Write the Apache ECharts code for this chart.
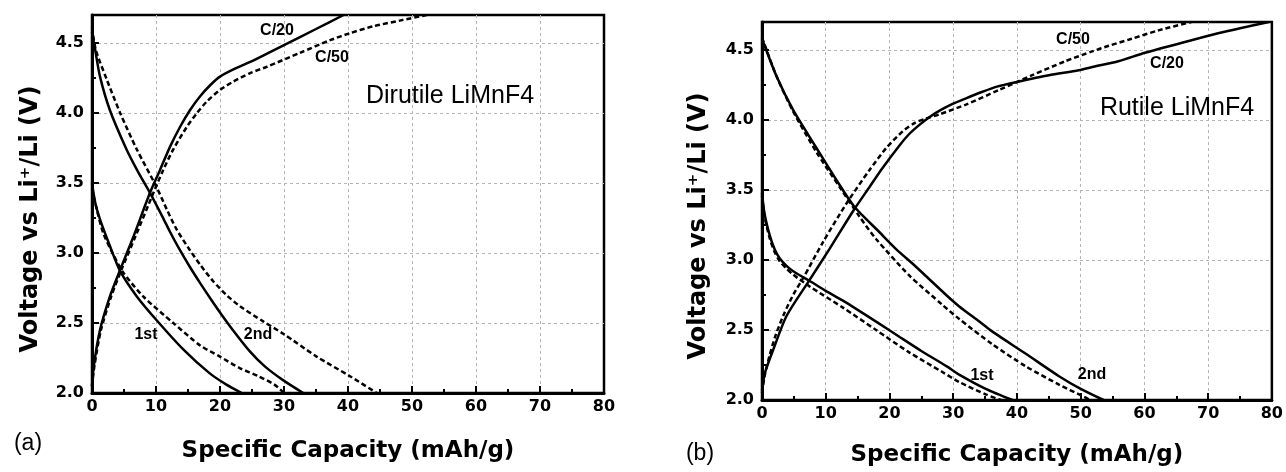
<!DOCTYPE html>
<html>
<head>
<meta charset="utf-8">
<script src="https://cdn.jsdelivr.net/npm/echarts@6/dist/echarts.min.js"></script>
<style>
html,body{margin:0;padding:0;background:#fff;}
#chart{width:1286px;height:472px;}
</style>
</head>
<body>
<div id="chart"></div>
<script>
// ---------- Data (capacity mAh/g, voltage V) ----------
// Panel (a) Dirutile LiMnF4
const dirChargeC20 = [[0,2.05],[0.3,2.2],[1.25,2.45],[2.8,2.69],[4.4,2.88],[6.5,3.12],[9.06,3.43],[10.6,3.59],[12.2,3.76],[13.75,3.9],[15.3,4.02],[16.9,4.12],[18.5,4.2],[20,4.26],[22.5,4.32],[25,4.37],[30,4.485],[35,4.6],[39.3,4.7]];
const dirChargeC50 = [[0,2.05],[0.4,2.2],[1.4,2.45],[3,2.69],[4.6,2.88],[6.8,3.12],[9.6,3.43],[11.1,3.59],[12.7,3.74],[14.8,3.9],[16.4,4.0],[17.9,4.08],[20,4.165],[22.1,4.225],[24.7,4.285],[27.3,4.33],[32.5,4.43],[37.2,4.52],[40.3,4.57],[44,4.62],[48.1,4.66],[52.3,4.7]];
const dirDisUpperC20 = [[0,4.58],[0.5,4.45],[1.25,4.26],[2.8,4.02],[5.4,3.74],[7.2,3.58],[9.06,3.43],[11,3.26],[12.2,3.15],[13.5,3.04],[15.3,2.9],[16.9,2.785],[18.5,2.675],[20,2.575],[22,2.45],[24.7,2.295],[27,2.19],[29.9,2.09],[33,2.0]];
const dirDisUpperC50 = [[0,4.61],[0.6,4.45],[2.3,4.24],[4.4,4.0],[7,3.74],[10.1,3.47],[11.7,3.31],[13.2,3.17],[15.3,3.02],[17,2.91],[18.9,2.8],[21,2.7],[23.1,2.62],[26.8,2.51],[30,2.42],[35.1,2.26],[40.3,2.12],[44.5,2.0]];
const dirDisLowerC20 = [[0,3.5],[0.5,3.36],[1.25,3.24],[2.8,3.05],[4.4,2.87],[7,2.69],[10.1,2.52],[14.3,2.31],[18.4,2.14],[21,2.06],[23.4,2.0]];
const dirDisLowerC50 = [[0,3.46],[0.8,3.3],[1.77,3.14],[3.2,3.0],[4.9,2.86],[8,2.69],[12.7,2.5],[16.9,2.34],[20,2.26],[23,2.18],[26,2.12],[28.5,2.06],[30,2.0]];

// Panel (b) Rutile LiMnF4
const rutChargeC20 = [[0,2.07],[0.5,2.2],[1.77,2.36],[3.85,2.6],[7.5,2.86],[10.6,3.08],[14.3,3.35],[17,3.53],[18.8,3.65],[21.6,3.82],[23.1,3.9],[24.7,3.965],[26.25,4.02],[28,4.07],[29.9,4.115],[32,4.155],[34.5,4.2],[37,4.24],[39.8,4.27],[45,4.32],[49.7,4.355],[52,4.38],[55.9,4.42],[60.1,4.48],[67.4,4.57],[72.6,4.63],[79.5,4.7]];
const rutChargeC50 = [[0,2.05],[0.4,2.17],[1.2,2.32],[2.2,2.47],[3.5,2.62],[5,2.76],[6.45,2.87],[9.6,3.13],[13.2,3.4],[16.9,3.645],[19.5,3.8],[22.1,3.92],[24,3.98],[25.7,4.01],[27.8,4.04],[32,4.11],[37.2,4.215],[42.4,4.32],[47.6,4.42],[51.8,4.49],[54.4,4.53],[58,4.58],[62.2,4.64],[67.4,4.7]];
const rutDisUpperC20 = [[0,4.58],[2.3,4.31],[4.9,4.07],[8.55,3.8],[11.7,3.57],[14.5,3.38],[18.4,3.2],[21,3.08],[24.2,2.95],[28.9,2.75],[30.9,2.67],[34.1,2.56],[36.1,2.49],[41.4,2.33],[46.6,2.17],[50,2.08],[53.6,2.0]];
const rutDisUpperC50 = [[0,4.59],[2.3,4.31],[4.9,4.06],[8.55,3.77],[12.2,3.52],[15.3,3.31],[17.9,3.15],[23.1,2.89],[28.3,2.68],[30.9,2.58],[36.1,2.4],[41.4,2.24],[46.6,2.11],[50.2,2.03],[51.5,2.0]];
const rutDisLowerC20 = [[0,3.48],[0.4,3.33],[1.25,3.17],[2,3.075],[2.8,3.01],[3.8,2.96],[4.9,2.92],[7.5,2.85],[10,2.78],[12.7,2.71],[17.9,2.56],[21.6,2.45],[25,2.35],[29,2.24],[31,2.18],[35.1,2.08],[39.3,2.0]];
const rutDisLowerC50 = [[0,3.46],[0.4,3.31],[1.25,3.15],[2,3.055],[2.8,2.99],[3.8,2.94],[4.9,2.895],[7.5,2.81],[12.7,2.66],[17.9,2.5],[23.1,2.34],[28.3,2.2],[30.9,2.13],[35.1,2.04],[37.5,2.0]];

const xRange = [0, 80];
const yRange = [2.0, 4.7];
const xTitle = 'Specific Capacity (mAh/g)';
const yTitle = 'Voltage vs Li\u207A/Li (V)';
const panelNames = ['Dirutile LiMnF4', 'Rutile LiMnF4'];
const panelTags = ['(a)', '(b)'];
const rateLabels = ['C/20', 'C/50'];
const cycleLabels = ['1st', '2nd'];

// ---------- Chart ----------
const chart = echarts.init(document.getElementById('chart'), null, {renderer: 'canvas'});
const BOLD = 'DejaVu Sans';
const grids = [
  {left: 92, top: 15, width: 512, height: 378},
  {left: 762, top: 22, width: 512, height: 379}
];
const gridLine = {show: true, showMinLine: false, showMaxLine: false,
  lineStyle: {color: '#b4b4b4', width: 1, type: [3, 3]}};

function xAxis(gi, gap) {
  return {
    type: 'value', gridIndex: gi, min: xRange[0], max: xRange[1], interval: 10,
    name: xTitle, nameLocation: 'middle', nameGap: gap,
    nameTextStyle: {fontFamily: BOLD, fontWeight: 'bold', fontSize: 23, color: '#000'},
    axisLine: {show: true, lineStyle: {color: '#000', width: 3}},
    axisTick: {show: true, inside: true, length: 7, lineStyle: {color: '#000', width: 2}},
    minorTick: {show: true, splitNumber: 2, length: 4, lineStyle: {color: '#000', width: 2}},
    axisLabel: {fontFamily: BOLD, fontWeight: 'bold', fontSize: 16, color: '#000', margin: 6},
    splitLine: gridLine
  };
}
function yAxisMain(gi, gap) {
  return {
    type: 'value', gridIndex: gi, position: 'left', min: yRange[0], max: yRange[1], interval: 0.5,
    name: yTitle, nameLocation: 'middle', nameGap: gap, nameRotate: 90,
    nameTextStyle: {fontFamily: BOLD, fontWeight: 'bold', fontSize: 24, color: '#000', padding: [0, 30, 0, 0]},
    axisLine: {show: true, lineStyle: {color: '#000', width: 3}},
    axisTick: {show: true, inside: true, length: 7, lineStyle: {color: '#000', width: 2}},
    axisLabel: {fontFamily: BOLD, fontWeight: 'bold', fontSize: 16, color: '#000', margin: 8,
      showMaxLabel: false, formatter: v => v.toFixed(1)},
    splitLine: gridLine
  };
}
function yAxisMinor(gi) {
  return {
    type: 'value', gridIndex: gi, position: 'left', offset: 0, min: yRange[0], max: yRange[1], interval: 0.25,
    axisLine: {show: false},
    axisTick: {show: true, inside: true, length: 4, lineStyle: {color: '#000', width: 2}},
    axisLabel: {show: false},
    splitLine: {show: false}
  };
}

function line(data, dashed, gi) {
  return {
    type: 'line', data: data, xAxisIndex: gi, yAxisIndex: gi * 2,
    showSymbol: false, symbol: 'none', smooth: 0.25, silent: true,
    lineStyle: {color: '#000', width: 2.5, type: dashed ? [5, 3] : 'solid', cap: 'butt'},
    z: 5
  };
}

function txt(x, y, text, size, bold, family) {
  return {
    type: 'text', x: x, y: y, silent: true, z: 100,
    style: {text: text, fill: '#000', fontSize: size, fontWeight: bold ? 'bold' : 'normal',
      fontFamily: family || 'Liberation Sans', align: 'center', verticalAlign: 'middle'}
  };
}

const option = {
  backgroundColor: '#fff',
  animation: false,
  grid: grids.map(g => Object.assign({show: true, borderColor: '#000', borderWidth: 2.5, containLabel: false}, g)),
  xAxis: [xAxis(0, 47), xAxis(1, 44)],
  yAxis: [yAxisMain(0, 49), yAxisMinor(0), yAxisMain(1, 51), yAxisMinor(1)],
  series: [
    line(dirChargeC20, false, 0), line(dirChargeC50, true, 0),
    line(dirDisUpperC20, false, 0), line(dirDisUpperC50, true, 0),
    line(dirDisLowerC20, false, 0), line(dirDisLowerC50, true, 0),
    line(rutChargeC20, false, 1), line(rutChargeC50, true, 1),
    line(rutDisUpperC20, false, 1), line(rutDisUpperC50, true, 1),
    line(rutDisLowerC20, false, 1), line(rutDisLowerC50, true, 1)
  ],
  graphic: [
    txt(450, 96, panelNames[0], 25, false),
    txt(1177, 108, panelNames[1], 25, false),
    txt(28, 444, panelTags[0], 23, false),
    txt(700, 454, panelTags[1], 23, false),
    txt(277, 31, rateLabels[0], 16, true),
    txt(332, 58, rateLabels[1], 16, true),
    txt(146, 335, cycleLabels[0], 16, true),
    txt(258, 335, cycleLabels[1], 16, true),
    txt(1073, 40, rateLabels[1], 16, true),
    txt(1167, 64, rateLabels[0], 16, true),
    txt(982, 376, cycleLabels[0], 16, true),
    txt(1092, 375, cycleLabels[1], 16, true)
  ]
};
chart.setOption(option);
</script>
</body>
</html>
